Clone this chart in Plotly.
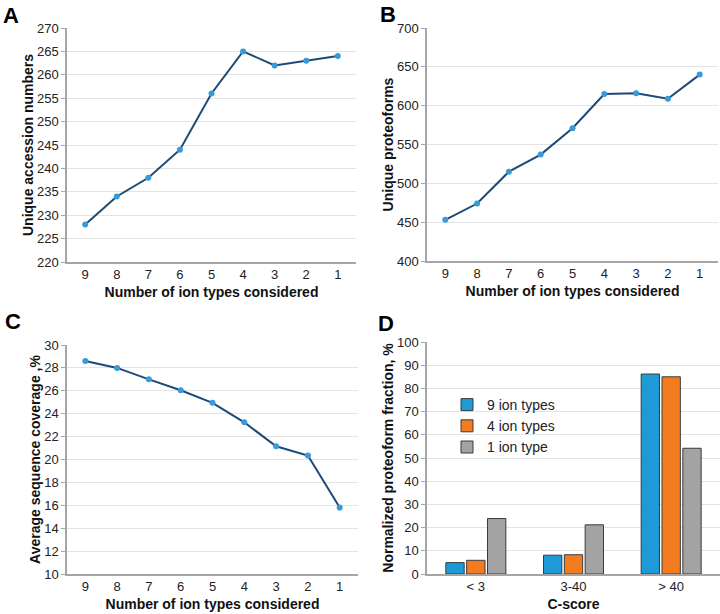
import plotly.graph_objects as go

ion_types = ["9", "8", "7", "6", "5", "4", "3", "2", "1"]
accessions = [228, 234, 238, 244, 256, 265, 262, 263, 264]
proteoforms = [453, 474, 515, 537, 571, 615, 616, 609, 640]
coverage = [28.6, 28.0, 27.0, 26.05, 24.95, 23.25, 21.15, 20.35, 15.8]

cscore_bins = ["< 3", "3-40", "> 40"]
frac_9 = [4.9, 8.1, 86.2]
frac_4 = [5.9, 8.3, 85.0]
frac_1 = [23.9, 21.2, 54.2]

W, H = 720, 614
LINE_C = "#1b4a78"
MARK_C = "#3a9ad9"
FONT = "Liberation Sans, Arial, sans-serif"

def px_x(a, b):
    return [a / W, b / W]

def px_y(top, bot):
    return [1 - bot / H, 1 - top / H]

fig = go.Figure()

panels = [
    ("x", "y", accessions),
    ("x2", "y2", proteoforms),
    ("x3", "y3", coverage),
]
for xa, ya, vals in panels:
    fig.add_trace(go.Scatter(
        x=ion_types, y=vals, xaxis=xa, yaxis=ya, mode="lines+markers",
        line=dict(color=LINE_C, width=2),
        marker=dict(color=MARK_C, size=6),
        showlegend=False, cliponaxis=False))

bar_specs = [
    ("9 ion types", frac_9, "#1e9bd7"),
    ("4 ion types", frac_4, "#f47c20"),
    ("1 ion type", frac_1, "#a3a3a3"),
]
for name, vals, col in bar_specs:
    fig.add_trace(go.Bar(
        x=cscore_bins, y=vals, name=name, xaxis="x4", yaxis="y4",
        marker=dict(color=col, line=dict(color="#3a3a3a", width=1))))

axis_line = dict(showline=True, linecolor="#a6a6a6", linewidth=1.5, automargin=False)
tickfont = dict(family=FONT, size=13, color="#222")
titlefont = dict(family=FONT, size=14, color="#111", weight="bold")

def xaxis(domain, anchor, title):
    return dict(domain=domain, anchor=anchor, type="category",
                showgrid=False, ticks="", tickfont=tickfont,
                title=dict(text=title, font=titlefont, standoff=6),
                zeroline=False, **axis_line)

def yaxis(domain, anchor, rng, dtick, title):
    return dict(domain=domain, anchor=anchor, range=rng, dtick=dtick,
                showgrid=True, gridcolor="#e3e3e3", gridwidth=1,
                ticks="outside", ticklen=4, tickcolor="#a6a6a6",
                tickfont=tickfont, zeroline=False,
                title=dict(text=title, font=titlefont, standoff=0),
                **axis_line)

XLBL = "Number of ion types considered"
fig.update_layout(
    width=W, height=H,
    margin=dict(l=0, r=0, t=0, b=0, autoexpand=False),
    paper_bgcolor="white", plot_bgcolor="white",
    font=dict(family=FONT),
    xaxis=xaxis(px_x(67, 356), "y", XLBL),
    yaxis=yaxis(px_y(28, 262), "x", [220, 270], 5, "Unique accession numbers"),
    xaxis2=xaxis(px_x(427, 718), "y2", XLBL),
    yaxis2=yaxis(px_y(28, 261), "x2", [400, 700], 50, "Unique proteoforms"),
    xaxis3=xaxis(px_x(67, 358), "y3", XLBL),
    yaxis3=yaxis(px_y(345, 574), "x3", [10, 30], 2, "Average sequence coverage ,%"),
    xaxis4=xaxis(px_x(427, 720), "y4", "C-score"),
    yaxis4=yaxis(px_y(342, 574), "x4", [0, 100], 10, "Normalized proteoform fraction, %"),
    barmode="group", bargap=0.36, bargroupgap=0.12,
    legend=dict(x=447 / W, y=1 - 389 / H, xanchor="left", yanchor="top",
                font=dict(family=FONT, size=14, color="#222"),
                bgcolor="rgba(0,0,0,0)", tracegroupgap=0, itemwidth=30),
    showlegend=True,
)

letters = [("A", 11, 15), ("B", 388, 14), ("C", 13, 321), ("D", 386, 323)]
for t, x, y in letters:
    fig.add_annotation(text=t, x=x / W, y=1 - y / H, xref="paper", yref="paper",
                       showarrow=False, xanchor="center", yanchor="middle",
                       font=dict(family=FONT, size=22, color="black", weight="bold"))

fig.write_html("out.html", config={"displayModeBar": False},
               post_script="document.body.style.margin='0';document.body.style.overflow='hidden';")
